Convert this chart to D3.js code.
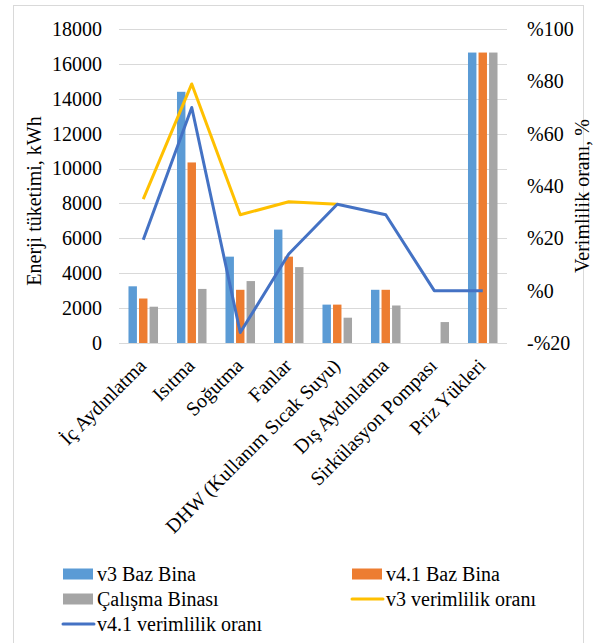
<!DOCTYPE html>
<html>
<head>
<meta charset="utf-8">
<script src="https://cdn.jsdelivr.net/npm/d3@7/dist/d3.min.js"></script>
</head>
<body style="margin:0">
<svg id="chart" width="595" height="643" style="display:block"></svg>
<script>
// Energy consumption per end use (kWh) and efficiency ratios (%)
const categories = ["İç Aydınlatma", "Isıtma", "Soğutma", "Fanlar", "DHW (Kullanım Sıcak Suyu)", "Dış Aydınlatma", "Sirkülasyon Pompası", "Priz Yükleri"];
const v3Base = [3250, 14400, 4950, 6500, 2200, 3050, 0, 16650];
const v41Base = [2550, 10350, 3050, 4950, 2200, 3050, 0, 16650];
const studyBuilding = [2080, 3100, 3550, 4350, 1450, 2150, 1200, 16650];
const v3Ratio = [35, 79, 29, 34, 33];            // ends at DHW
const v41Ratio = [19.5, 70, -16, 14, 33, 29, 0, 0];
const leftTicks = [0, 2000, 4000, 6000, 8000, 10000, 12000, 14000, 16000, 18000];
const rightTicks = [-20, 0, 20, 40, 60, 80, 100];

const FONT = "Liberation Serif";

const barSeries = [
  { name: "v3 Baz Bina", values: v3Base, color: "#5B9BD5" },
  { name: "v4.1 Baz Bina", values: v41Base, color: "#ED7D31" },
  { name: "Çalışma Binası", values: studyBuilding, color: "#A5A5A5" }
];
const lineSeries = [
  { name: "v3 verimlilik oranı", values: v3Ratio, color: "#FFC000" },
  { name: "v4.1 verimlilik oranı", values: v41Ratio, color: "#4472C4" }
];

const svg = d3.select("#chart").attr("font-family", FONT);
const plot = { left: 119, right: 507, top: 29, bottom: 343 };

// apply the serif face to a text selection
function serif(sel, size) {
  sel.attr("font-family", FONT).attr("font-size", size)
    .style("font-family", `"${FONT}"`).style("font-size", `${size}px`).attr("fill", "#000");
}

// outer frame
svg.append("rect")
  .attr("x", 13.5).attr("y", 5.5).attr("width", 570).attr("height", 660)
  .attr("fill", "none").attr("stroke", "#d9d9d9").attr("stroke-width", 1);

const x = d3.scaleBand().domain(categories).range([plot.left, plot.right]).padding(0);
const yL = d3.scaleLinear().domain([0, 18000]).range([plot.bottom, plot.top]);
const yR = d3.scaleLinear().domain([-20, 100]).range([plot.bottom, plot.top]);

// gridlines
svg.append("g").selectAll("line").data(leftTicks).join("line")
  .attr("x1", plot.left).attr("x2", plot.right)
  .attr("y1", d => Math.round(yL(d)) + 0.5).attr("y2", d => Math.round(yL(d)) + 0.5)
  .attr("stroke", "#d9d9d9").attr("stroke-width", 1);

// left axis labels
const leftAxis = d3.axisLeft(yL).tickValues(leftTicks).tickSize(0).tickPadding(17).tickFormat(d3.format("d"));
svg.append("g").attr("transform", `translate(${plot.left},0)`).call(leftAxis)
  .attr("font-family", FONT).attr("font-size", 20)
  .call(g => g.select(".domain").remove())
  .selectAll("text").call(serif, 20);

// right axis labels
const rightAxis = d3.axisRight(yR).tickValues(rightTicks).tickSize(0).tickPadding(20)
  .tickFormat(d => (d < 0 ? "-%" + Math.abs(d) : "%" + d));
svg.append("g").attr("transform", `translate(${plot.right},0)`).call(rightAxis)
  .attr("font-family", FONT).attr("font-size", 20)
  .call(g => g.select(".domain").remove())
  .selectAll("text").call(serif, 20);

// bars
const xs = d3.scaleBand().domain(barSeries.map(s => s.name)).range([0, x.bandwidth()]).paddingInner(0.2).paddingOuter(0.9);
barSeries.forEach(s => {
  svg.append("g").selectAll("rect").data(categories).join("rect")
    .attr("x", (c) => x(c) + xs(s.name))
    .attr("width", xs.bandwidth())
    .attr("y", (c, i) => yL(s.values[i]))
    .attr("height", (c, i) => yL(0) - yL(s.values[i]))
    .attr("fill", s.color);
});

// efficiency lines
lineSeries.forEach(s => {
  const line = d3.line()
    .x((d, i) => x(categories[i]) + x.bandwidth() / 2)
    .y(d => yR(d));
  svg.append("path").datum(s.values)
    .attr("d", line).attr("fill", "none")
    .attr("stroke", s.color).attr("stroke-width", 3).attr("stroke-linejoin", "round");
});

// category labels
svg.append("g").selectAll("text").data(categories).join("text")
  .attr("transform", c => `translate(${x(c) + x.bandwidth() / 2 + 4},${plot.bottom + 24}) rotate(-45)`)
  .attr("text-anchor", "end")
  .call(serif, 20)
  .text(c => c);

// axis titles
svg.append("text")
  .attr("transform", `translate(41,${(plot.top + plot.bottom) / 2 + 15}) rotate(-90)`)
  .attr("text-anchor", "middle").call(serif, 20)
  .text("Enerji tüketimi, kWh");
svg.append("text")
  .attr("transform", `translate(589,${(plot.top + plot.bottom) / 2 + 10}) rotate(-90)`)
  .attr("text-anchor", "middle").call(serif, 20)
  .text("Verimlilik oranı, %");

// legend
const legendItems = [
  { name: "v3 Baz Bina", color: "#5B9BD5", type: "rect", x: 63, y: 574 },
  { name: "v4.1 Baz Bina", color: "#ED7D31", type: "rect", x: 352, y: 574 },
  { name: "Çalışma Binası", color: "#A5A5A5", type: "rect", x: 63, y: 599 },
  { name: "v3 verimlilik oranı", color: "#FFC000", type: "line", x: 352, y: 599 },
  { name: "v4.1 verimlilik oranı", color: "#4472C4", type: "line", x: 63, y: 624 }
];
const lg = svg.append("g").selectAll("g").data(legendItems).join("g")
  .attr("transform", d => `translate(${d.x},${d.y})`);
lg.filter(d => d.type === "rect").append("rect")
  .attr("x", 0).attr("y", -5.5).attr("width", 30).attr("height", 11).attr("fill", d => d.color);
lg.filter(d => d.type === "line").append("line")
  .attr("x1", 0).attr("x2", 31).attr("y1", 0).attr("y2", 0)
  .attr("stroke", d => d.color).attr("stroke-width", 3).attr("stroke-linecap", "round");
lg.append("text").attr("x", 34).attr("y", 7).call(serif, 20).text(d => d.name);
</script>
</body>
</html>
